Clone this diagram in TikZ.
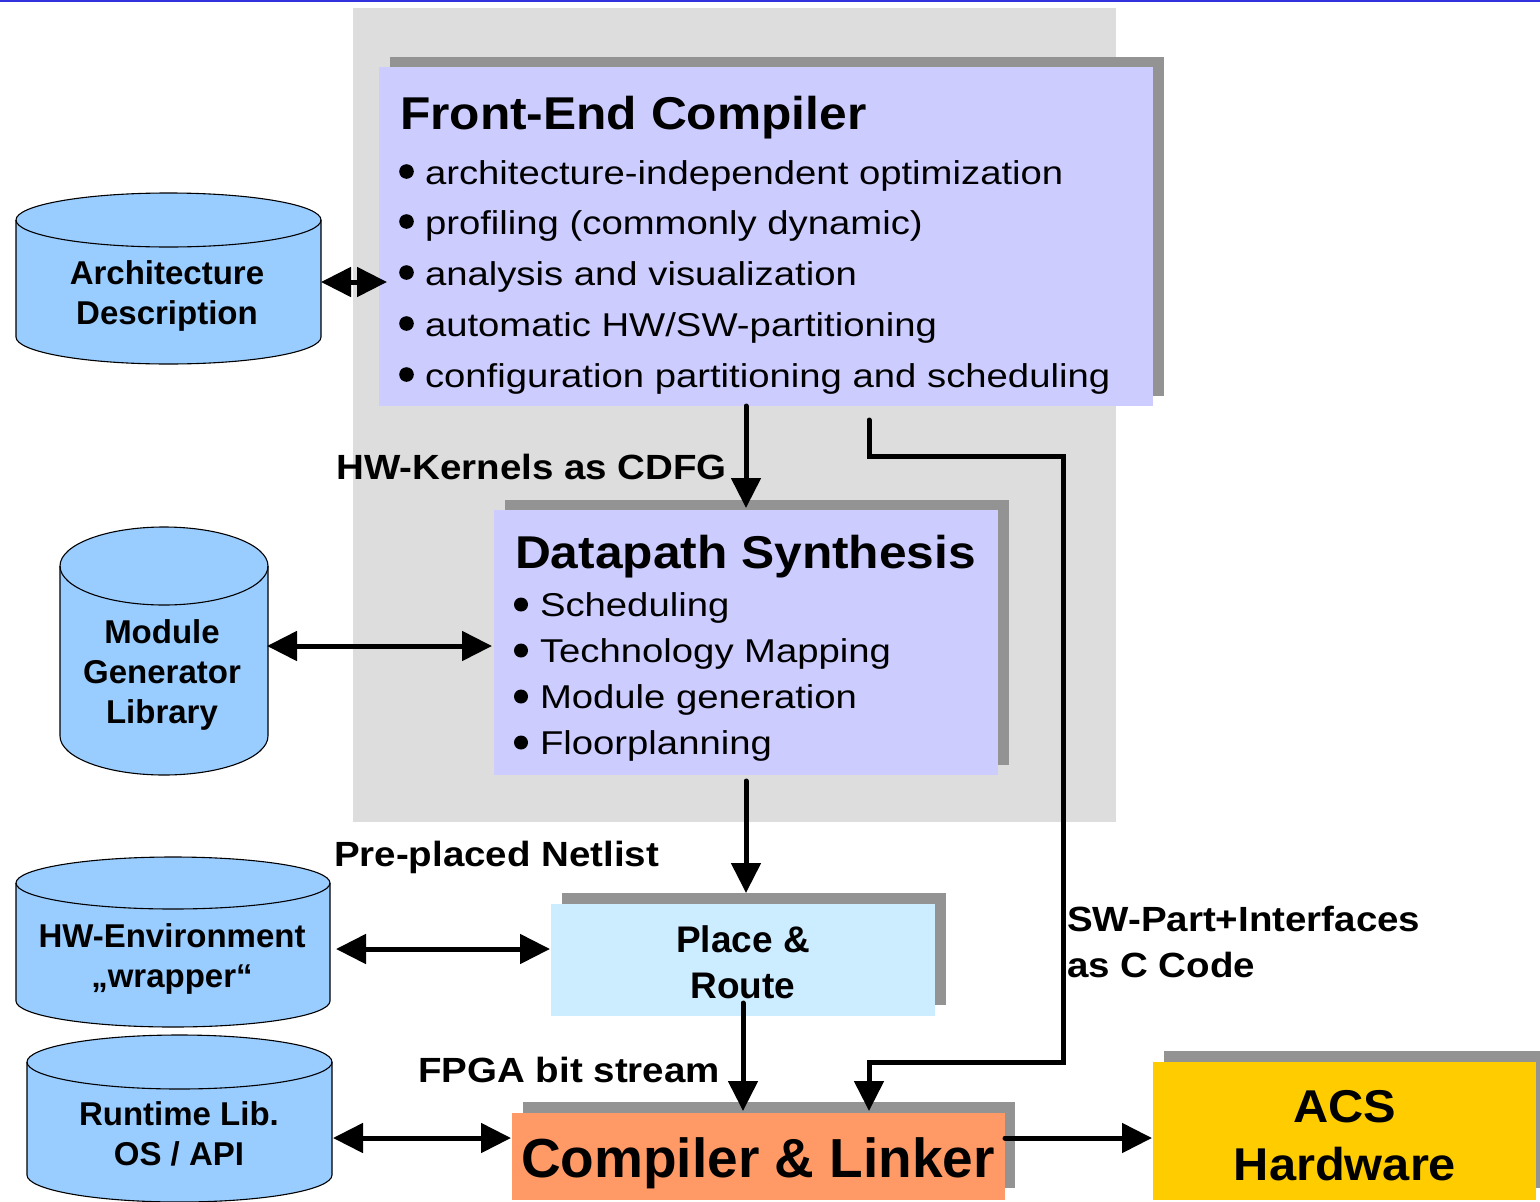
\documentclass[tikz,border=0pt]{standalone}
\usepackage{fontspec}
\setmainfont{Liberation Sans}
\newfontfamily\titlefont[FakeStretch=1.08]{Liberation Sans}
\newfontfamily\bulletfont[FakeStretch=1.16]{Liberation Sans}
\newfontfamily\labelfont[FakeStretch=1.1]{Liberation Sans}
\newfontfamily\acsfont[FakeStretch=1.06]{Liberation Sans}
\usetikzlibrary{arrows.meta}
\definecolor{topblue}{HTML}{3333DD}
\definecolor{bggray}{HTML}{DDDDDD}
\definecolor{shadowgray}{HTML}{939393}
\definecolor{fecol}{HTML}{CCCCFF}
\definecolor{prcol}{HTML}{CCECFF}
\definecolor{clcol}{HTML}{FF9966}
\definecolor{acscol}{HTML}{FFCC00}
\definecolor{cylcol}{HTML}{99CCFF}
\newcommand\cylshape[5]{%
 \pgfmathsetmacro\cylcx{(#1+#2)/2}%
 \pgfmathsetmacro\cylkx{0.5523*(#2-#1)/2}%
 \pgfmathsetmacro\cylky{0.5523*#5}%
 \filldraw[cyl] ({#1},{#3}) -- ({#1},{#4}) .. controls ({#1},{#4+\cylky}) and ({\cylcx-\cylkx},{#4+#5}) .. ({\cylcx},{#4+#5}) .. controls ({\cylcx+\cylkx},{#4+#5}) and ({#2},{#4+\cylky}) .. ({#2},{#4}) -- ({#2},{#3}) .. controls ({#2},{#3-\cylky}) and ({\cylcx+\cylkx},{#3-#5}) .. ({\cylcx},{#3-#5}) .. controls ({\cylcx-\cylkx},{#3-#5}) and ({#1},{#3-\cylky}) .. ({#1},{#3}) -- cycle;
 \draw[cyl, fill=none] ({#1},{#3}) .. controls ({#1},{#3+\cylky}) and ({\cylcx-\cylkx},{#3+#5}) .. ({\cylcx},{#3+#5}) .. controls ({\cylcx+\cylkx},{#3+#5}) and ({#2},{#3+\cylky}) .. ({#2},{#3});
}
\begin{document}
\begin{tikzpicture}[x=1pt,y=-1pt,
  txt/.style={inner sep=0pt, outer sep=0pt},
  inv/.style={inner sep=0pt, outer sep=0pt, draw=none, rectangle},
  boxn/.style={inner sep=0pt, outer sep=0pt, draw=none, rectangle},
  shadow/.style={fill=shadowgray},
  cyl/.style={fill=cylcol, draw=black, line width=1.1pt},
  bulletdot/.style={fill=black},
  titletxt/.style={txt, anchor=base west, font={\titlefont\bfseries\fontsize{46}{50}\selectfont}},
  bul/.style={txt, anchor=base west, font={\bulletfont\fontsize{33}{38}\selectfont}},
  lbl/.style={txt, font={\labelfont\bfseries\fontsize{35}{40}\selectfont}},
  cyltxt/.style={txt, anchor=base, font={\bfseries\fontsize{33}{38}\selectfont}},
  prtxt/.style={txt, anchor=base, font={\bfseries\fontsize{37}{42}\selectfont}},
  cltxt/.style={txt, anchor=base, font={\bfseries\fontsize{55}{60}\selectfont}},
  acstxt/.style={txt, anchor=base, font={\acsfont\bfseries\fontsize{46}{52}\selectfont}},
  conn/.style={line width=5pt, line cap=round},
  arr/.style={conn, -{Triangle[length=30pt,width=29pt]}},
  dblarr/.style={conn, {Triangle[length=30pt,width=29pt]}-{Triangle[length=30pt,width=29pt]}}
]
\useasboundingbox (0,0) rectangle (1540,1202);
\fill[white] (0,0) rectangle (1540,1202);
\fill[topblue] (0,0) rectangle (1540,2);
% grey background panel
\fill[bggray] (353,8) rectangle (1116,822);
% shadows
\fill[shadow] (390,57) rectangle (1164,396);
\fill[shadow] (505,500) rectangle (1009,765);
\fill[shadow] (562,893) rectangle (946,1005);
\fill[shadow] (523,1102) rectangle (1015,1188);
\fill[shadow] (1164,1051) rectangle (1540,1188);
% boxes
\node[boxn, fill=fecol, minimum width=774pt, minimum height=339pt] (fe) at (766,236.5) {};
\node[boxn, fill=fecol, minimum width=504pt, minimum height=265pt] (ds) at (746,642.5) {};
\node[boxn, fill=prcol, minimum width=384pt, minimum height=112pt] (pr) at (743,960) {};
\node[boxn, fill=clcol, minimum width=493pt, minimum height=87pt] (cl) at (758.5,1156.5) {};
\node[boxn, fill=acscol, minimum width=383pt, minimum height=138pt] (acs) at (1344.5,1131) {};
% cylinders
\cylshape{16}{321}{220}{337}{27}
\cylshape{60}{268}{566}{736}{39}
\cylshape{16}{330}{883}{1001}{26}
\cylshape{27}{332}{1062}{1175}{27}
\node[inv, minimum width=305pt, minimum height=171pt] (arch) at (168.5,282) {};
\node[inv, minimum width=208pt, minimum height=245pt] (mod) at (164,646) {};
\node[inv, minimum width=314pt, minimum height=170pt] (hwe) at (173,949) {};
\node[inv, minimum width=305pt, minimum height=160pt] (rt) at (179.5,1138) {};
% cylinder texts
\node[cyltxt] (arch1) at (167,284) {Architecture};
\node[cyltxt] (arch2) at (167,324) {Description};
\node[cyltxt] (mod1) at (162,643) {Module};
\node[cyltxt] (mod2) at (162,683) {Generator};
\node[cyltxt] (mod3) at (162,723) {Library};
\node[cyltxt] (hwe1) at (172,947) {HW-Environment};
\node[cyltxt] (hwe2) at (172,987) {„wrapper“};
\node[cyltxt] (rt1) at (179,1125) {Runtime Lib.};
\node[cyltxt] (rt2) at (179,1165) {OS / API};
% box texts
\node[titletxt] (fet) at (400,129) {Front-End Compiler};
\foreach \by in {184,234,285,336,387} {\fill[bulletdot] (406.5,\by-12.5) circle (7.3pt);}
\node[bul] (fe1) at (425,184) {architecture-independent optimization};
\node[bul] (fe2) at (425,234) {profiling (commonly dynamic)};
\node[bul] (fe3) at (425,285) {analysis and visualization};
\node[bul] (fe4) at (425,336) {automatic HW/SW-partitioning};
\node[bul] (fe5) at (425,387) {configuration partitioning and scheduling};
\node[titletxt] (dst) at (515,568) {Datapath Synthesis};
\foreach \by in {616,662,708,754} {\fill[bulletdot] (521,\by-11.5) circle (7pt);}
\node[bul] (ds1) at (540,616) {Scheduling};
\node[bul] (ds2) at (540,662) {Technology Mapping};
\node[bul] (ds3) at (540,708) {Module generation};
\node[bul] (ds4) at (540,754) {Floorplanning};
\node[prtxt] (pr1) at (743,952) {Place \&};
\node[prtxt] (pr2) at (743,998) {Route};
\node[cltxt] (clt) at (758,1177) {Compiler \& Linker};
\node[acstxt] (acs1) at (1345,1122) {ACS};
\node[acstxt] (acs2) at (1345,1180) {Hardware};
% labels
\node[lbl, anchor=base east] (l1) at (727,479) {HW-Kernels as CDFG};
\node[lbl, anchor=base west] (l2) at (334,866) {Pre-placed Netlist};
\node[lbl, anchor=base west] (l3) at (1067,931) {SW-Part+Interfaces};
\node[lbl, anchor=base west] (l4) at (1067,977) {as C Code};
\node[lbl, anchor=base east] (l5) at (720,1082) {FPGA bit stream};
% connectors
\draw[dblarr, shorten >=-8pt] (arch.east) -- (arch.east -| fe.west);
\draw[arr, shorten >=2pt] (ds.north |- fe.south) -- (ds.north);
\draw[dblarr, shorten <=-1pt, shorten >=2pt] (mod.east) -- (mod.east -| ds.west);
\draw[arr, shorten <=6pt, shorten >=11pt] (ds.south) -- (ds.south |- pr.north);
\draw[dblarr, shorten <=6pt, shorten >=1pt] (hwe.east) -- (hwe.east -| pr.west);
\draw[arr, shorten <=-13pt, shorten >=2pt] (pr.south) -- (pr.south |- cl.north);
\draw[dblarr, shorten <=1pt, shorten >=1pt] (rt.east) -- (rt.east -| cl.west);
\draw[arr, shorten >=1pt] (rt.east -| cl.east) -- (rt.east -| acs.west);
\coordinate (swstart) at (869,420);
\coordinate (swa) at (1063,456);
\coordinate (swb) at (1063,1062);
\draw[arr, line join=miter, shorten >=2pt] (swstart) |- (swa) -- (swb) -| (swstart |- cl.north);
\end{tikzpicture}
\end{document}
